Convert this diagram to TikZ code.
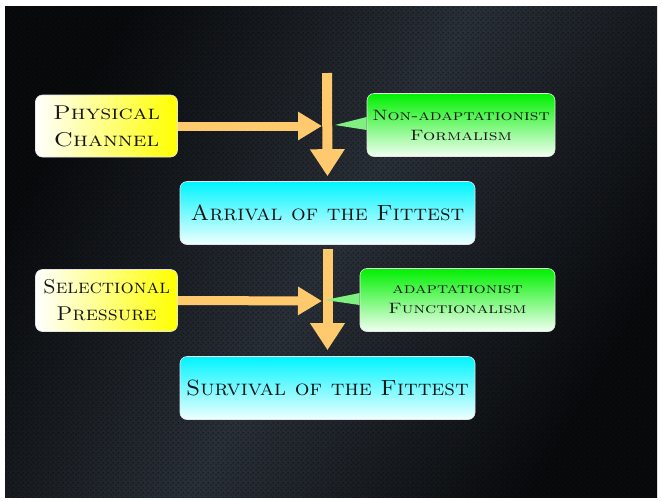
\documentclass[tikz,border=0pt]{standalone}
\usepackage{graphicx}
\usetikzlibrary{arrows.meta,patterns.meta}
\definecolor{arrcol}{HTML}{FFC96E}
\definecolor{bgdark}{HTML}{080A0C}
\definecolor{bglight}{HTML}{2A3038}
\definecolor{txt}{HTML}{151515}
\definecolor{gtop}{HTML}{00F000}
\definecolor{gbot}{HTML}{F2FFF2}
\definecolor{ctop}{HTML}{00F4FF}
\definecolor{cbot}{HTML}{F0FFFF}
\definecolor{ptrg}{HTML}{80F080}
\newcommand\xs[2]{\scalebox{#1}[1]{#2}}
\tikzdeclarepattern{
  name=holes,
  type=uncolored,
  bounding box={(0pt,0pt) and (5pt,5pt)},
  tile size={(5pt,5pt)},
  code={
    \fill (1.25pt,1.25pt) circle[radius=0.95pt];
    \fill (3.75pt,3.75pt) circle[radius=0.95pt];
  }
}
\begin{document}
\begin{tikzpicture}[x=1pt,y=-1pt,
  base/.style={rounded corners=7pt, draw=white!80!gray, line width=0.6pt,
    align=center, text=txt, inner sep=0pt},
  yelbox/.style={base, left color=white, right color=yellow,
    minimum width=142pt, minimum height=62pt,
    font=\fontsize{20}{27}\selectfont\scshape},
  cyanbox/.style={base, top color=ctop, bottom color=cbot,
    minimum width=295pt, minimum height=63pt,
    font=\fontsize{22}{26}\selectfont\scshape},
  greenbox/.style={base, top color=gtop, bottom color=gbot,
    minimum height=63pt,
    font=\fontsize{15}{20}\selectfont\scshape},
  bigarrow/.style={draw=arrcol, line width=10pt,
    -{Triangle[width=33pt,length=27pt]}},
  harrow/.style={draw=arrcol, line width=9pt,
    -{Triangle[width=27pt,length=24pt]}},
  pointer/.style={fill=ptrg}
]
\useasboundingbox (0,0) rectangle (662,501);
\fill[white] (0,0) rectangle (662,501);
\shade[shading=axis, top color=bgdark, bottom color=bgdark, middle color=bglight,
  shading angle=60] (5,6) rectangle (657,497);
\fill[pattern=holes, pattern color=black, fill opacity=0.45] (5,6) rectangle (657,497);

% nodes
\node[yelbox] (phys) at (106.5,126) {\xs{1.2}{Physical}\\\xs{1.22}{Channel}};
\node[yelbox] (sel) at (106.5,300.5) {\xs{1.04}{Selectional}\\\xs{1.09}{Pressure}};
\node[cyanbox] (arrival) at (327.5,213) {\xs{1.05}{Arrival of the Fittest}};
\node[cyanbox] (survival) at (327.5,388) {\xs{1.055}{Survival of the Fittest}};
\node[greenbox, minimum width=188pt] (naf) at (461,125) {\xs{1.26}{Non-adaptationist}\\\xs{1.28}{Formalism}};
\node[greenbox, minimum width=195pt] (af) at (457.5,300) {\xs{1.25}{adaptationist}\\\xs{1.26}{Functionalism}};

% coordinates
\coordinate (top) at (327,73);
\coordinate (j1) at (322,126);
\coordinate (j2) at (322,301);
\coordinate (p1) at (335,125);
\coordinate (p2) at (325,300);

% arrows
\draw[bigarrow, shorten >=5pt] (top) -- (arrival.north);
\draw[bigarrow, shorten >=6pt, shorten <=4pt] (arrival.south) -- (survival.north);
\draw[harrow] (phys.east) -- (j1);
\draw[harrow] (sel.east) -- (j2);

% callout pointers
\fill[pointer] ([yshift=8pt]naf.west) -- (p1) -- ([yshift=-5pt]naf.west) -- cycle;
\fill[pointer] ([yshift=7pt]af.west) -- (p2) -- ([yshift=-5pt]af.west) -- cycle;
\end{tikzpicture}
\end{document}
